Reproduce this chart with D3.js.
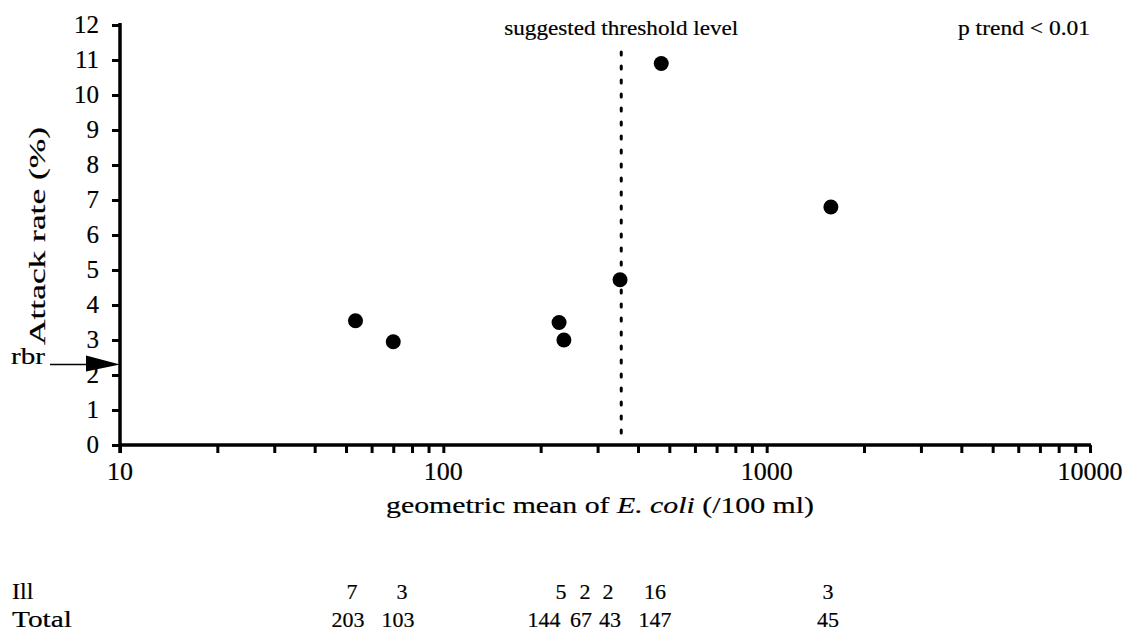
<!DOCTYPE html>
<html><head><meta charset="utf-8">
<script src="https://cdn.jsdelivr.net/npm/d3@7"></script>
<style>body{margin:0;background:#fff}svg{display:block}text{font-family:"Liberation Serif","Times New Roman",serif;fill:#000;stroke:#000;stroke-width:0.2px}</style>
</head><body><svg id="c" width="1130" height="633"></svg>
<script>
const ecoli = [53.5, 70, 228, 236, 352, 472, 1580];
const attackRate = [3.55, 2.95, 3.5, 3.0, 4.72, 10.9, 6.8];
const illCounts = ["7","3","5","2","2","16","3"];
const totalCounts = ["203","103","144","67","43","147","45"];
const yTicks = [0,1,2,3,4,5,6,7,8,9,10,11,12];
const xMajor = [10,100,1000,10000];
const threshold = 355;
const rbr = 2.3;

const svg = d3.select("#c");
const x = d3.scaleLog().domain([10,10000]).range([120,1090]);
const y = d3.scaleLinear().domain([0,12]).range([445,25]);

// x ticks
const minor = [];
for (let d=10; d<10000; d*=10) for (let k=2;k<=9;k++) minor.push(d*k);
svg.append("g").attr("transform","translate(0,445)")
  .call(d3.axisBottom(x).tickValues(minor.concat(xMajor)).tickSize(8).tickFormat(""))
  .call(g=>{g.select(".domain").remove();g.selectAll(".tick line").attr("stroke","#000").attr("stroke-width",3);});
svg.append("line").attr("x1",x(10)).attr("x2",x(10000)+1).attr("y1",445).attr("y2",445).attr("stroke","#000").attr("stroke-width",3.5);
svg.selectAll(".xl").data(xMajor).join("text").attr("x",d=>x(d)).attr("y",480)
  .attr("text-anchor","middle").attr("font-size",26).text(d=>d);

// y axis
svg.append("g").attr("transform","translate(120,0)")
  .call(d3.axisLeft(y).tickValues(yTicks).tickSize(8).tickFormat(""))
  .call(g=>{g.select(".domain").remove();g.selectAll(".tick line").attr("stroke","#000").attr("stroke-width",3);});
svg.append("line").attr("x1",120).attr("x2",120).attr("y1",y(12)-2).attr("y2",453).attr("stroke","#000").attr("stroke-width",3.5);
svg.selectAll(".yl").data(yTicks).join("text").attr("x",99).attr("y",d=>y(d)+8)
  .attr("text-anchor","end").attr("font-size",25).text(d=>d);

svg.append("text").attr("transform","translate(45,236) rotate(-90)").attr("text-anchor","middle")
  .attr("font-size",24).attr("textLength",218).attr("lengthAdjust","spacingAndGlyphs").text("Attack rate (%)");
const xt = svg.append("text").attr("x",600).attr("y",513).attr("text-anchor","middle").attr("font-size",24)
  .attr("textLength",428).attr("lengthAdjust","spacingAndGlyphs");
xt.append("tspan").text("geometric mean of ");
xt.append("tspan").attr("font-style","italic").text("E. coli");
xt.append("tspan").text("  (/100 ml)");

// threshold
svg.append("line").attr("x1",x(threshold)).attr("x2",x(threshold)).attr("y1",52).attr("y2",443)
  .attr("stroke","#000").attr("stroke-width",3).attr("stroke-dasharray","3,11").attr("stroke-linecap","round");
svg.append("text").attr("x",x(threshold)).attr("y",35).attr("text-anchor","middle").attr("font-size",21)
  .attr("textLength",234).attr("lengthAdjust","spacingAndGlyphs").text("suggested threshold level");
svg.append("text").attr("x",1090).attr("y",35).attr("text-anchor","end").attr("font-size",21)
  .attr("textLength",132).attr("lengthAdjust","spacingAndGlyphs").text("p trend < 0.01");

// rbr arrow
svg.append("text").attr("x",11).attr("y",y(rbr)-1).attr("font-size",24)
  .attr("textLength",34).attr("lengthAdjust","spacingAndGlyphs").text("rbr");
svg.append("line").attr("x1",50).attr("x2",100).attr("y1",y(rbr)).attr("y2",y(rbr)).attr("stroke","#000").attr("stroke-width",1.5);
svg.append("path").attr("d",`M${86},${y(rbr)-9} L${120},${y(rbr)} L${86},${y(rbr)+7} Z`).attr("fill","#000");

// points
svg.selectAll(".pt").data(ecoli).join("circle").attr("cx",d=>x(d)).attr("cy",(d,i)=>y(attackRate[i])).attr("r",7.5).attr("fill","#000");

// table
svg.append("text").attr("x",12).attr("y",599).attr("font-size",24).text("Ill");
svg.append("text").attr("x",12).attr("y",627).attr("font-size",24)
  .attr("textLength",60).attr("lengthAdjust","spacingAndGlyphs").text("Total");
const illX = [352, 402, 561, 585, 608, 655, 828];
const totX = [348, 398, 544, 581, 610, 655, 828];
svg.selectAll(".ill").data(illCounts).join("text").attr("x",(d,i)=>illX[i]).attr("y",599).attr("text-anchor","middle").attr("font-size",22).text(d=>d);
svg.selectAll(".tot").data(totalCounts).join("text").attr("x",(d,i)=>totX[i]).attr("y",627).attr("text-anchor","middle").attr("font-size",22).text(d=>d);
</script></body></html>
